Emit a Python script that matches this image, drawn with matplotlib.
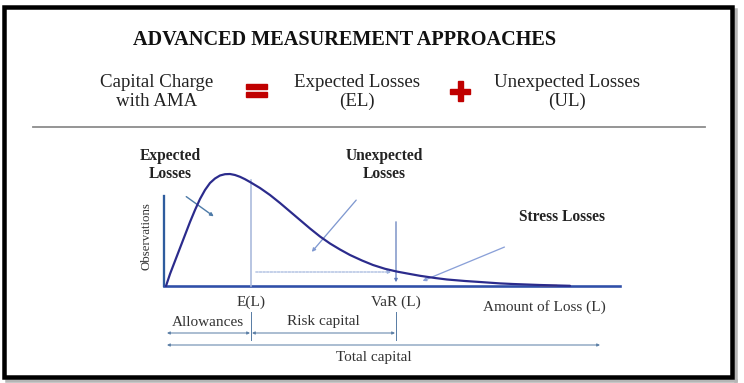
import matplotlib
matplotlib.use("Agg")
import matplotlib.pyplot as plt
from matplotlib.patches import Rectangle

# ---- data (diagram coordinates, pixels of the 744x383 canvas) ----
curve_x = [166, 170, 175, 180, 185, 190, 195, 200, 205, 210, 215, 220, 225, 230, 235,
           240, 245, 250, 260, 270, 280, 290, 300, 310, 320, 330, 340, 350, 362, 373, 385,
           397, 410, 420, 435, 447, 465, 480, 500, 513, 540, 570]
curve_y = [286, 274, 261, 248, 235, 222, 210, 199, 190, 183, 178.5, 175.5, 174.2, 174, 175,
           176.8, 179.2, 182, 188, 195, 203, 211.5, 220, 228.5, 236.5, 243.5, 249.5, 255, 260.5, 265, 268.8,
           271.6, 274, 275.8, 278, 279.5, 281, 282, 283.4, 284, 285, 285.8]
el_x = 251
var_x = 396
title = "ADVANCED MEASUREMENT APPROACHES"
eq_left = "Capital Charge\nwith AMA"
eq_mid = "Expected Losses\n(EL)"
eq_right = "Unexpected Losses\n(UL)"
x_labels = ["E(L)", "VaR (L)", "Amount of Loss (L)"]
band_labels = ["Allowances", "Risk capital", "Total capital"]

W, H = 744, 383
fig = plt.figure(figsize=(W / 100, H / 100), dpi=100)
ax = fig.add_axes([0, 0, 1, 1])
ax.set_xlim(0, W)
ax.set_ylim(H, 0)
ax.axis("off")

serif = ["Liberation Serif", "DejaVu Serif"]
px = 72 / 100.0

# frame with shadow (right and bottom only)
ax.plot([735.5, 735.5], [10, 380.5], color="#b5b5b5", lw=3.5 * px, zorder=1)
ax.plot([7, 735.5], [380.5, 380.5], color="#b5b5b5", lw=3.5 * px, zorder=1)
ax.add_patch(Rectangle((4, 7), 728, 370, fill=False, ec="black", lw=4.5 * px, zorder=2))

# title and equation
ax.text(345, 40, title, fontsize=14.6, fontweight="bold", family=serif,
        ha="center", va="center", color="#111111")
eq = dict(fontsize=13.6, family=serif, ha="center", va="center",
          color="#222222", linespacing=1.12)
ax.text(157, 92, eq_left, **eq)
ax.text(357, 92, eq_mid, **eq)
ax.text(567, 92, eq_right, **eq)
red = "#c00000"
ax.add_patch(Rectangle((246, 84), 21, 4.5, color=red, zorder=3))
ax.add_patch(Rectangle((246, 92), 21, 5, color=red, zorder=3))
ax.add_patch(Rectangle((457.5, 81), 5, 20, color=red, zorder=3))
ax.add_patch(Rectangle((450, 88.5), 20, 5, color=red, zorder=3))

# separator
ax.plot([33, 705], [127, 127], color="#8c8c8c", lw=1.8 * px)

# axes
axis_c = "#2f4fa8"
ax.plot([164, 164], [196, 286], color="#2e5c9e", lw=2.3 * px)
ax.plot([164, 620], [286, 286], color=axis_c, lw=2.6 * px)
ax.plot([540, 556], [285.2, 285.2], color="#e07030", lw=1.4 * px)

# curve
ax.plot(curve_x, curve_y, color="#2b2b8c", lw=2.2 * px, solid_capstyle="round",
        solid_joinstyle="round", zorder=4)

# E(L) vertical
light = "#a8b8dc"
ax.plot([el_x, el_x], [180, 286], color=light, lw=1.6 * px)
# dotted horizontal arrow E(L) -> VaR
ax.annotate("", xy=(var_x - 2, 272), xytext=(el_x + 2, 272),
            arrowprops=dict(arrowstyle="-|>", color="#9fb3dc", lw=1.2 * px,
                            linestyle=(0, (2, 1)), mutation_scale=5))
# VaR vertical arrow
ax.annotate("", xy=(var_x, 285), xytext=(var_x, 219),
            arrowprops=dict(arrowstyle="-|>", color="#5b78b8", lw=1.2 * px,
                            mutation_scale=4.5))

# pointer arrows
ax.annotate("", xy=(216, 218), xytext=(184, 195),
            arrowprops=dict(arrowstyle="-|>", color="#4e7ba8", lw=1.4 * px, mutation_scale=5))
ax.annotate("", xy=(310, 254), xytext=(358, 198),
            arrowprops=dict(arrowstyle="-|>", color="#7f98d0", lw=1.3 * px, mutation_scale=5))
ax.annotate("", xy=(420, 282), xytext=(507, 246),
            arrowprops=dict(arrowstyle="-|>", color="#8aa0d8", lw=1.3 * px, mutation_scale=5))

# bold labels
bl = dict(fontsize=11.2, fontweight="bold", family=serif, ha="center", va="center",
          color="#222222", linespacing=1.1)
ax.text(170, 165, "Expected\nLosses", **bl)
ax.text(384, 165, "Unexpected\nLosses", **bl)
ax.text(562, 217, "Stress Losses", **bl)

ax.text(147, 236, "Observations", fontsize=9.3, family=serif, rotation=90,
        ha="center", va="center", color="#333333")

# x labels
lab = dict(fontsize=11, family=serif, ha="center", va="center", color="#333333")
ax.text(el_x, 302, x_labels[0], **lab)
ax.text(var_x, 302, x_labels[1], **lab)
ax.text(544, 307, x_labels[2], **lab)

# capital bands
dim_c = "#5b7fa6"
ax.plot([el_x, el_x], [312, 340], color=dim_c, lw=1.0 * px)
ax.plot([var_x, var_x], [312, 340], color=dim_c, lw=1.0 * px)
for x0, x1, y in [(167, el_x - 1, 333), (el_x + 1, var_x - 1, 333), (167, 600, 345)]:
    ax.annotate("", xy=(x1, y), xytext=(x0, y),
                arrowprops=dict(arrowstyle="<|-|>", color=dim_c, lw=1.0 * px,
                                mutation_scale=4, shrinkA=0, shrinkB=0))
ax.text(208, 323, band_labels[0], **lab)
ax.text(323, 322, band_labels[1], **lab)
ax.text(374, 357, band_labels[2], **lab)

fig.savefig("out.png", dpi=100)
